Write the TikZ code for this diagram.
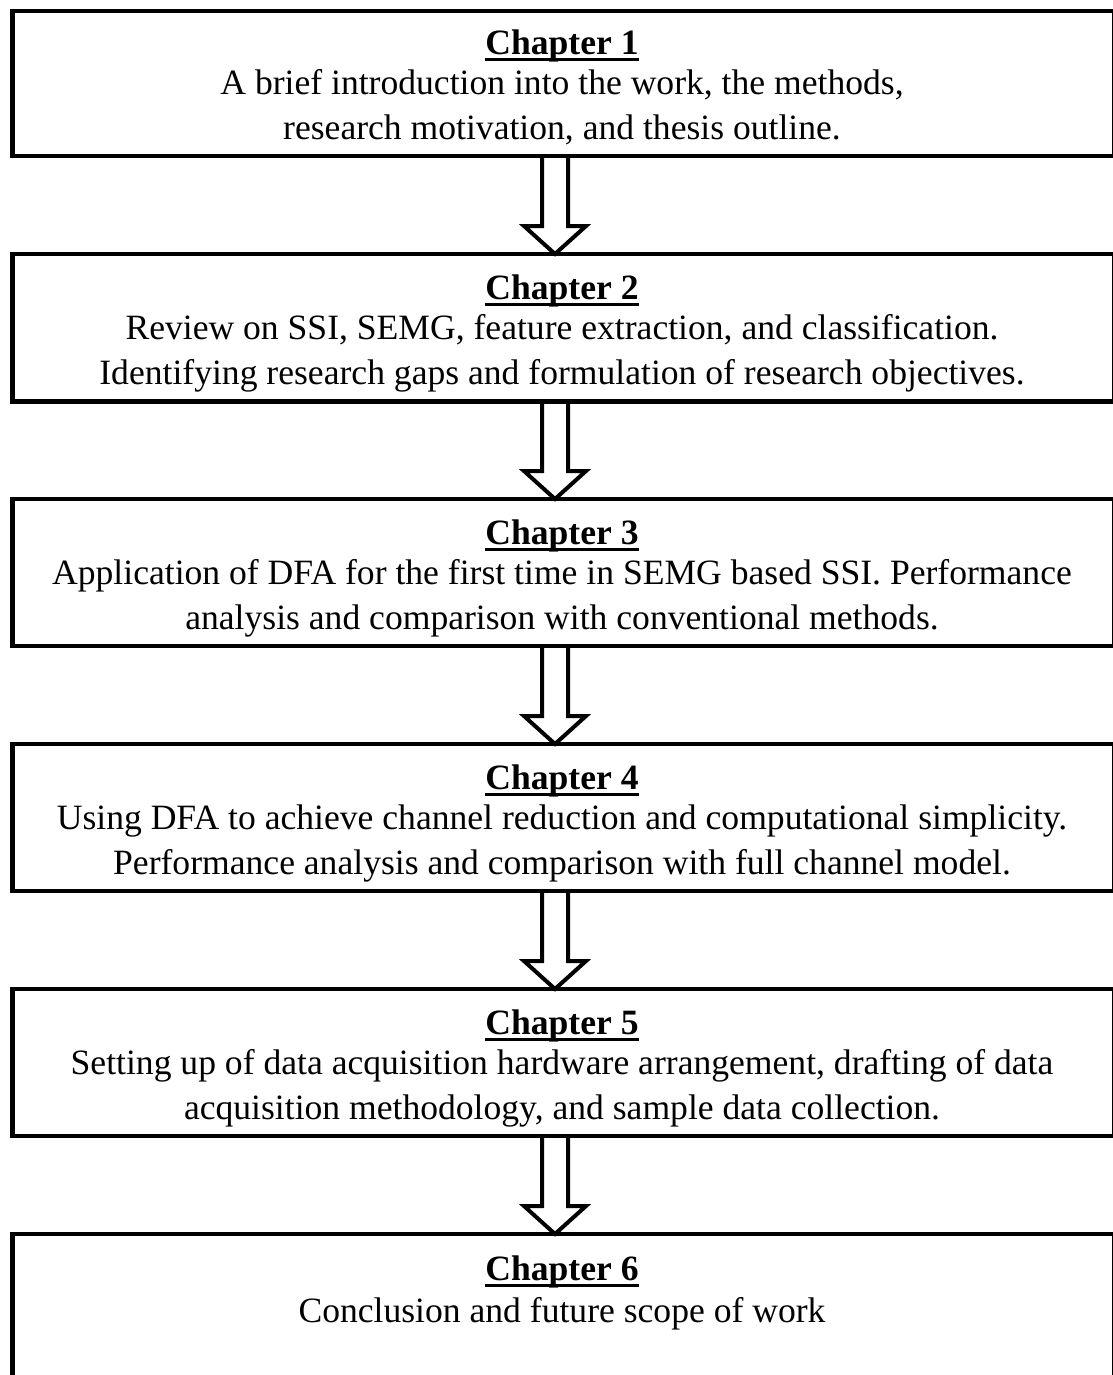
\documentclass[tikz,border=0pt]{standalone}
\usepackage{fontspec}
\setmainfont{Liberation Serif}
\usetikzlibrary{calc}
\tikzset{
  box/.style={draw=black, line width=4.5pt, rectangle, minimum width=1101.5pt, inner sep=0pt, outer sep=0pt},
  txt/.style={align=center, inner sep=0pt, font=\fontsize{35.6}{45}\selectfont},
  darrow/.style={draw=black, line width=4pt, line join=miter, fill=none},
}
\newsavebox{\chapbox}
\newcommand{\chap}[1]{\sbox{\chapbox}{\textbf{Chapter #1}}\rlap{\rule[-6pt]{\wd\chapbox}{2.6pt}}\usebox{\chapbox}}
\begin{document}
\begin{tikzpicture}[x=1pt,y=-1pt]
\useasboundingbox (0,0) rectangle (1112,1375);
% boxes (line centres in pixels)
\node[box, minimum height=145pt] (b1) at (563.25,83.5) {};
\node[box, minimum height=147.5pt] (b2) at (563.25,327.75) {};
\node[box, minimum height=147pt] (b3) at (563.25,572.5) {};
\node[box, minimum height=147pt] (b4) at (563.25,817.5) {};
\node[box, minimum height=147pt] (b5) at (563.25,1062.5) {};
\node[box, minimum height=180pt] (b6) at (563.25,1324) {};
% texts
\node[txt] (t1) at (562,87.5) {\chap{1}\\[-5pt]A brief introduction into the work, the methods,\\research motivation, and thesis outline.};
\node[txt] (t2) at (562,333.5) {\chap{2}\\[-5pt]Review on SSI, SEMG, feature extraction, and classification.\\Identifying research gaps and formulation of research objectives.};
\node[txt] (t3) at (562,578.5) {\chap{3}\\[-5pt]Application of DFA for the first time in SEMG based SSI. Performance\\analysis and comparison with conventional methods.};
\node[txt] (t4) at (562,823.5) {\chap{4}\\[-5pt]Using DFA to achieve channel reduction and computational simplicity.\\Performance analysis and comparison with full channel model.};
\node[txt] (t5) at (562,1068.5) {\chap{5}\\[-5pt]Setting up of data acquisition hardware arrangement, drafting of data\\acquisition methodology, and sample data collection.};
\node[txt] (t6) at (562,1293) {\chap{6}\\[-3pt]Conclusion and future scope of work};
% hollow block arrows
\foreach \a/\b in {b1/b2, b2/b3, b3/b4, b4/b5, b5/b6}{
  \path (\a.south) ++(-8.25,0) coordinate (s) (\b.north) ++(-8.25,0) coordinate (t);
  \draw[darrow] ($(s)+(-13,0)$) -- ($(t)+(-13,-28)$) -- ($(t)+(-31,-28)$) -- (t)
    -- ($(t)+(31,-28)$) -- ($(t)+(13,-28)$) -- ($(s)+(13,0)$);
}
\end{tikzpicture}
\end{document}
